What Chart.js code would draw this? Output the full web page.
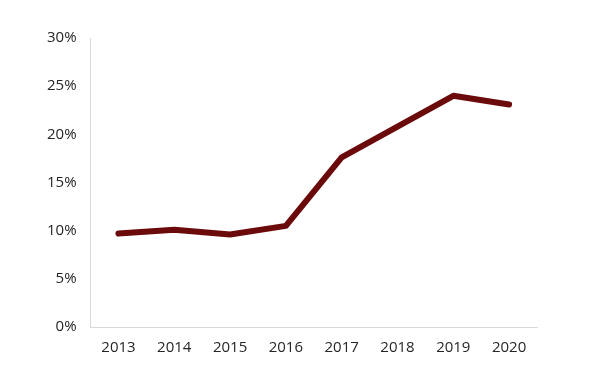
<!DOCTYPE html>
<html lang="en">
<head>
  <meta charset="UTF-8">
  <script src="https://cdn.jsdelivr.net/npm/chart.js"></script>
  <title>Share 2013-2020</title>
  <style>
    body { margin: 0; padding: 0; background: #fff; }
    #wrap { width: 597px; height: 392px; }
  </style>
</head>
<body>
<div id="wrap"><canvas id="chart" width="597" height="392"></canvas></div>
<script>
  // data
  const years = ['2013', '2014', '2015', '2016', '2017', '2018', '2019', '2020'];
  const shares = [9.7, 10.1, 9.6, 10.5, 17.6, 20.8, 24.0, 23.1];
  const yTicks = [0, 5, 10, 15, 20, 25, 30];

  const ctx = document.getElementById('chart').getContext('2d');
  new Chart(ctx, {
    type: 'line',
    data: {
      labels: years,
      datasets: [{
        data: shares,
        borderColor: '#6b0a0a',
        borderWidth: 6,
        pointRadius: 0,
        tension: 0,
        borderCapStyle: 'round',
        borderJoinStyle: 'round',
        fill: false
      }]
    },
    options: {
      responsive: false,
      animation: false,
      layout: { padding: { left: 33, right: 60, top: 38, bottom: 23 } },
      plugins: { legend: { display: false }, tooltip: { enabled: false } },
      scales: {
        x: {
          offset: true,
          grid: { display: false, drawTicks: false },
          border: { color: '#d9d9d9', width: 1 },
          ticks: { color: '#262626', font: { family: 'Open Sans', size: 15 }, padding: 12 }
        },
        y: {
          min: 0,
          max: 30,
          afterBuildTicks: (axis) => { axis.ticks = yTicks.map(v => ({ value: v })); },
          grid: { display: false, drawTicks: false },
          border: { color: '#d9d9d9', width: 1 },
          ticks: {
            color: '#262626',
            font: { family: 'Open Sans', size: 15 },
            padding: 14,
            callback: (v) => v + '%'
          }
        }
      }
    }
  });
</script>
</body>
</html>
